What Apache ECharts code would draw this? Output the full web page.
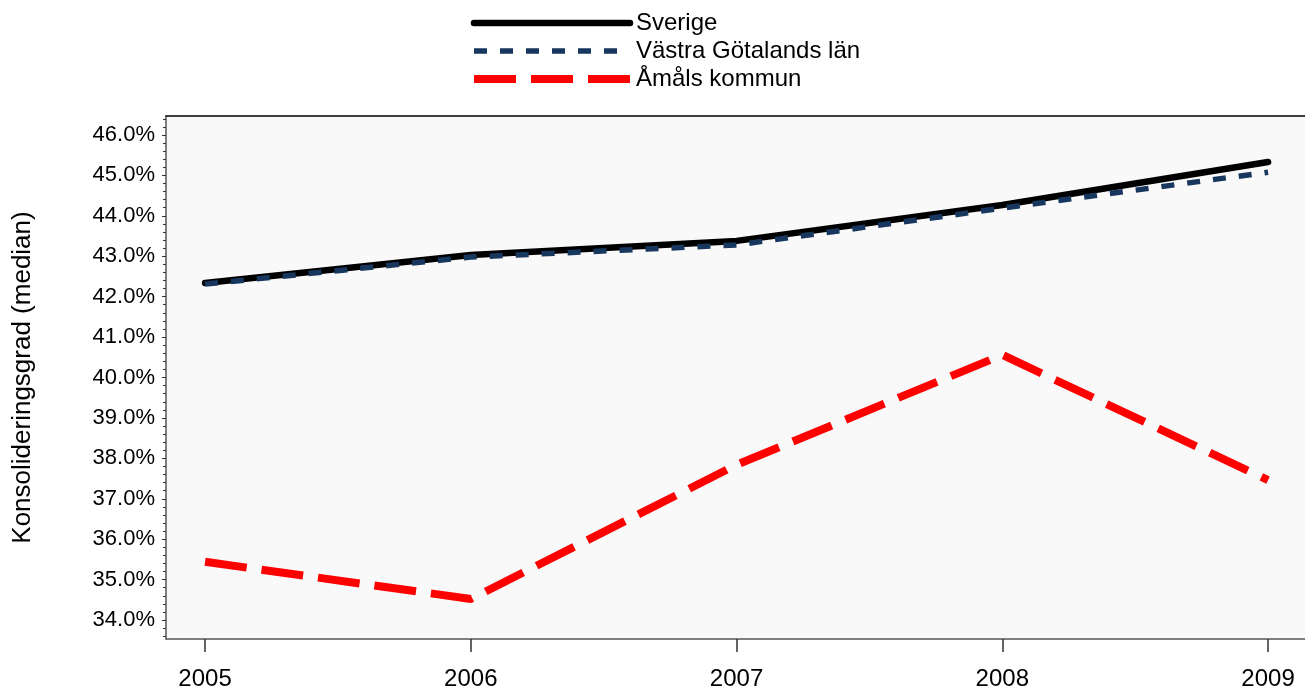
<!DOCTYPE html>
<html>
<head>
<meta charset="utf-8">
<script src="https://cdn.jsdelivr.net/npm/echarts@6/dist/echarts.min.js"></script>
<style>
  html, body { margin: 0; padding: 0; background: #fff; }
  #chart { width: 1305px; height: 691px; }
</style>
</head>
<body>
<div id="chart"></div>
<script>
var years = [2005, 2006, 2007, 2008, 2009];
var sverige = [42.34, 43.03, 43.38, 44.27, 45.33];
var vastraGotaland = [42.31, 42.98, 43.28, 44.19, 45.08];
var amal = [35.44, 34.52, 37.84, 40.56, 37.46];
var yTicks = [34, 35, 36, 37, 38, 39, 40, 41, 42, 43, 44, 45, 46];

var font = 'Liberation Sans, Arial, sans-serif';

function pairs (vals) {
  return years.map(function (y, i) { return [y, vals[i]]; });
}

// small ticks between the labelled ones (every 0.2 %)
var minorTicks = [];
for (var t = 33.6; t < 46.45; t += 0.2) {
  var r = Math.round(t * 10) / 10;
  if (Math.abs(r - Math.round(r)) > 0.05) minorTicks.push(r);
}

var chart = echarts.init(document.getElementById('chart'));

chart.setOption({
  animation: false,
  textStyle: { fontFamily: font },
  legend: {
    orient: 'vertical',
    left: 470,
    top: 11,
    padding: 0,
    itemWidth: 156,
    itemHeight: 14,
    itemGap: 4,
    itemStyle: { opacity: 0 },
    lineStyle: { width: 'inherit' },
    textStyle: { fontSize: 24, color: '#000', fontFamily: font, padding: [0, 0, 0, 1] },
    data: ['Sverige', 'Västra Götalands län', 'Åmåls kommun']
  },
  grid: {
    left: 166, right: 0, top: 116, bottom: 52,
    outerBoundsMode: 'none',
    show: true, backgroundColor: '#f9f9f9', borderWidth: 0
  },
  xAxis: [{
    type: 'value',
    min: 2004.853,
    max: 2009.139,
    splitLine: { show: false },
    axisLine: { lineStyle: { color: '#555', width: 1.5 } },
    axisTick: { customValues: years, length: 13, lineStyle: { color: '#333', width: 1.5 } },
    axisLabel: {
      customValues: years, margin: 28, fontSize: 24, color: '#000', fontFamily: font,
      formatter: function (v) { return String(Math.round(v)); }
    }
  }, {
    type: 'value',
    position: 'top',
    min: 2004.853,
    max: 2009.139,
    splitLine: { show: false },
    axisLine: { show: true, lineStyle: { color: '#000', width: 1.5 } },
    axisTick: { show: false },
    axisLabel: { show: false }
  }],
  yAxis: [{
    type: 'value',
    min: 33.53,
    max: 46.47,
    name: 'Konsolideringsgrad (median)',
    nameLocation: 'middle',
    nameGap: 130,
    nameTextStyle: { fontSize: 26, color: '#000', fontFamily: font },
    splitLine: { show: false },
    axisLine: { show: true, lineStyle: { color: '#555', width: 1.5 } },
    axisTick: { customValues: yTicks, length: 4, lineStyle: { color: '#333' } },
    axisLabel: {
      customValues: yTicks, margin: 11, fontSize: 22, color: '#000', fontFamily: font,
      formatter: function (v) { return v.toFixed(1) + '%'; }
    }
  }, {
    type: 'value',
    position: 'left',
    min: 33.53,
    max: 46.47,
    splitLine: { show: false },
    axisLine: { show: false },
    axisTick: { customValues: minorTicks, length: 3, lineStyle: { color: '#333' } },
    axisLabel: { show: false }
  }],
  series: [{
    name: 'Sverige',
    type: 'line',
    symbol: 'none',
    data: pairs(sverige),
    lineStyle: { color: '#000', width: 6.5, cap: 'round', join: 'round' },
    itemStyle: { color: '#000' },
    z: 3
  }, {
    name: 'Västra Götalands län',
    type: 'line',
    symbol: 'none',
    data: pairs(vastraGotaland),
    lineStyle: { color: '#17375e', width: 5.5, type: [13, 13] },
    itemStyle: { color: '#17375e' },
    z: 4
  }, {
    name: 'Åmåls kommun',
    type: 'line',
    symbol: 'none',
    data: pairs(amal),
    lineStyle: { color: '#ff0000', width: 8, type: [42, 15] },
    itemStyle: { color: '#ff0000' },
    z: 5
  }]
});
</script>
</body>
</html>
